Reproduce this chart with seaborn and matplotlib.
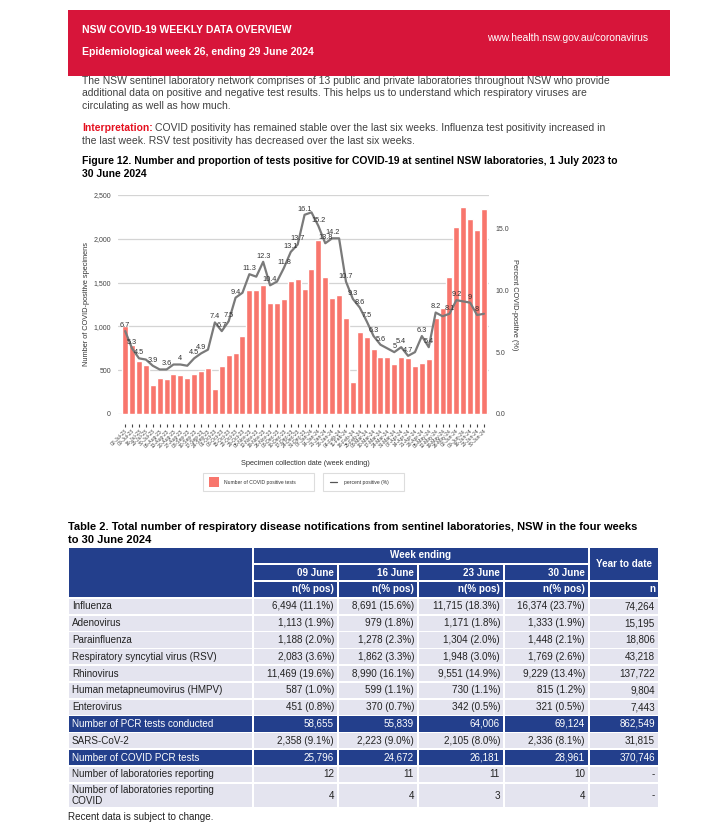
import numpy as np
import pandas as pd
import seaborn as sns
import matplotlib.pyplot as plt
from matplotlib.patches import Rectangle
from matplotlib.lines import Line2D

# ---- chart data (week ending, sentinel labs) ----
week_ending = pd.date_range("2023-07-02", "2024-06-30", freq="W-SUN")
week_labels = [d.strftime("%d-%b-%y") for d in week_ending]

covid_pos = [1008, 782, 603, 561, 336, 416, 405, 462, 443, 416,
             462, 489, 523, 286, 550, 679, 695, 885, 1412, 1412,
             1469, 1271, 1271, 1317, 1519, 1542, 1427, 1660, 1989, 1569,
             1328, 1363, 1095, 370, 931, 874, 740, 649, 649, 573,
             649, 637, 550, 580, 630, 1092, 1214, 1561, 2137, 2358,
             2223, 2105, 2336]

pct_pos = [6.7, 5.3, 4.5, 4.4, 3.9, 3.6, 3.6, 4.0, 4.0, 3.9,
           4.5, 4.9, 5.2, 7.4, 6.7, 7.5, 9.4, 9.8, 11.3, 11.1,
           12.3, 10.4, 10.7, 11.8, 13.1, 13.7, 16.1, 16.3, 15.2, 13.8,
           14.2, 14.2, 10.7, 9.3, 8.6, 7.5, 6.3, 5.6, 5.3, 5.0,
           5.4, 4.7, 5.0, 6.3, 5.4, 8.2, 7.9, 8.1, 9.2, 9.1,
           9.0, 8.0, 8.1]

# weeks whose percent label is visible on the chart (0-based)
labelled_weeks = [0, 1, 2, 4, 6, 8, 10, 11, 13, 14, 15, 16, 18, 20, 21, 23, 24, 25,
                  26, 28, 29, 30, 32, 33, 34, 35, 36, 37, 39, 40, 41, 43, 44, 45,
                  47, 48, 50, 51]

# ---- table data ----
row_names = ["Influenza", "Adenovirus", "Parainfluenza", "Respiratory syncytial virus (RSV)",
             "Rhinovirus", "Human metapneumovirus (HMPV)", "Enterovirus",
             "Number of PCR tests conducted", "SARS-CoV-2", "Number of COVID PCR tests",
             "Number of laboratories reporting", "Number of laboratories reporting\nCOVID"]
week_cols = ["09 June", "16 June", "23 June", "30 June"]
col_09jun = ["6,494 (11.1%)", "1,113 (1.9%)", "1,188 (2.0%)", "2,083 (3.6%)", "11,469 (19.6%)",
             "587 (1.0%)", "451 (0.8%)", "58,655", "2,358 (9.1%)", "25,796", "12", "4"]
col_16jun = ["8,691 (15.6%)", "979 (1.8%)", "1,278 (2.3%)", "1,862 (3.3%)", "8,990 (16.1%)",
             "599 (1.1%)", "370 (0.7%)", "55,839", "2,223 (9.0%)", "24,672", "11", "4"]
col_23jun = ["11,715 (18.3%)", "1,171 (1.8%)", "1,304 (2.0%)", "1,948 (3.0%)", "9,551 (14.9%)",
             "730 (1.1%)", "342 (0.5%)", "64,006", "2,105 (8.0%)", "26,181", "11", "3"]
col_30jun = ["16,374 (23.7%)", "1,333 (1.9%)", "1,448 (2.1%)", "1,769 (2.6%)", "9,229 (13.4%)",
             "815 (1.2%)", "321 (0.5%)", "69,124", "2,336 (8.1%)", "28,961", "10", "4"]
col_ytd = ["74,264", "15,195", "18,806", "43,218", "137,722", "9,804", "7,443",
           "862,549", "31,815", "370,746", "-", "-"]
blue_rows = ["Number of PCR tests conducted", "Number of COVID PCR tests"]

RED = "#D7153A"
BLUE = "#233F8C"
LAV = "#E4E4EF"
BAR = "#F8766D"
LINE = "#7A7A7A"
GREY_TXT = "#404040"

sns.set_style("white")
plt.rcParams["font.family"] = ["Liberation Sans", "DejaVu Sans"]

W, H = 707, 831
fig = plt.figure(figsize=(W / 100, H / 100), dpi=100)

# overlay in pixel coordinates for the page parts
pg = fig.add_axes([0, 0, 1, 1])
pg.set_xlim(0, W)
pg.set_ylim(H, 0)
pg.axis("off")

# header band
pg.add_patch(Rectangle((68, 10), 602, 66, color=RED, lw=0))
pg.text(82, 30, "NSW COVID-19 WEEKLY DATA OVERVIEW", color="white", fontsize=7.45, weight="bold", va="center")
pg.text(82, 52, "Epidemiological week 26, ending 29 June 2024", color="white", fontsize=7.55, weight="bold", va="center")
pg.text(648, 38, "www.health.nsw.gov.au/coronavirus", color="white", fontsize=7.4, ha="right", va="center")

para = ["The NSW sentinel laboratory network comprises of 13 public and private laboratories throughout NSW who provide",
        "additional data on positive and negative test results. This helps us to understand which respiratory viruses are",
        "circulating as well as how much."]
for k, line in enumerate(para):
    pg.text(82, 81 + k * 12.5, line, color=GREY_TXT, fontsize=7.5, va="center")

t_int = pg.text(82, 128, "Interpretation:", color="#E5101F", fontsize=7.5, weight="bold", va="center")
fig.canvas.draw()
bb = t_int.get_window_extent().transformed(pg.transData.inverted())
pg.text(bb.x1 + 2.5, 128, "COVID positivity has remained stable over the last six weeks. Influenza test positivity increased in",
        color=GREY_TXT, fontsize=7.5, va="center")
pg.text(82, 141, "the last week. RSV test positivity has decreased over the last six weeks.", color=GREY_TXT, fontsize=7.5, va="center")

pg.text(82, 161, "Figure 12. Number and proportion of tests positive for COVID-19 at sentinel NSW laboratories, 1 July 2023 to",
        color="black", fontsize=7.5, weight="bold", va="center")
pg.text(82, 174, "30 June 2024", color="black", fontsize=7.5, weight="bold", va="center")

# ---- chart ----
df = pd.DataFrame({"week": week_labels, "positive": covid_pos, "pct": pct_pos, "pos": np.arange(len(week_labels))})

ax = fig.add_axes([118 / W, 1 - 414 / H, 371 / W, 219 / H])
sns.barplot(data=df, x="week", y="positive", color=BAR, saturation=1, width=0.87, ax=ax, zorder=2)
ax.set_ylim(0, 2500)
ax.set_yticks(range(0, 2501, 500))
ax.set_yticklabels([f"{v:,}" for v in range(0, 2501, 500)])
ax.yaxis.grid(True, color="#d4d4d4", lw=0.9)
ax.set_axisbelow(True)
for s in ax.spines.values():
    s.set_visible(False)
ax.spines["bottom"].set_position(("outward", 7))
ax.tick_params(axis="y", length=0, pad=5, labelsize=5, labelcolor="#444")
ax.tick_params(axis="x", bottom=True, length=2.5, width=0.8, color="#444", pad=1)
ax.set_xticks(range(len(week_labels)))
ax.set_xticklabels(week_labels, rotation=45, ha="right", rotation_mode="anchor", fontsize=3.6, color="#444")
ax.set_ylabel("Number of COVID-positive specimens", fontsize=5.3, color="#333")
ax.yaxis.set_label_coords(-0.075, 0.5)
ax.set_xlabel("Specimen collection date (week ending)", fontsize=5.3, color="#333")
ax.xaxis.set_label_coords(0.504, -0.21)

ax2 = ax.twinx()
sns.lineplot(data=df, x="pos", y="pct", color=LINE, lw=1.6, ax=ax2)
ax2.set_ylim(0, 17.7)
ax2.set_yticks([0, 5, 10, 15])
ax2.set_yticklabels([f"{v:.1f}" for v in [0, 5, 10, 15]])
ax2.tick_params(axis="y", length=0, pad=5, labelsize=5, labelcolor="#444")
for s in ax2.spines.values():
    s.set_visible(False)
ax2.set_ylabel("Percent COVID-positive (%)", fontsize=5.3, color="#333", rotation=-90)
ax2.yaxis.set_label_coords(1.078, 0.5)
ax2.set_xlabel("")
for i in labelled_weeks:
    ax2.annotate(f"{pct_pos[i]:g}", (i, pct_pos[i]), xytext=(0, 4), textcoords="offset points",
                 ha="center", va="center", fontsize=5.3, color="#333")
ax.set_xlim(-1.04, 52.73)

# legend boxes
pg.add_patch(Rectangle((203, 473), 111, 18, facecolor="white", edgecolor="#dddddd", lw=0.8))
pg.add_patch(Rectangle((209, 477), 10, 10, color=BAR, lw=0))
pg.text(224, 482.5, "Number of COVID positive tests", fontsize=3.6, color="#333", va="center")
pg.add_patch(Rectangle((323, 473), 81, 18, facecolor="white", edgecolor="#dddddd", lw=0.8))
pg.add_line(Line2D([330, 337], [482, 482], color="#555", lw=0.9))
pg.text(344, 482.5, "percent positive (%)", fontsize=3.6, color="#333", va="center")

# ---- table ----
pg.text(68, 527, "Table 2. Total number of respiratory disease notifications from sentinel laboratories, NSW in the four weeks",
        color="black", fontsize=8.0, weight="bold", va="center")
pg.text(68, 540, "to 30 June 2024", color="black", fontsize=8.0, weight="bold", va="center")

col_x = [68, 253, 338, 418, 504, 589, 659]
hdr_y = [547, 564, 581, 598]
rh = 16.8
g = 0.8
TS = 7.1


def cell(x0, x1, y0, y1, fc):
    pg.add_patch(Rectangle((x0 + g, y0 + g), x1 - x0 - 2 * g, y1 - y0 - 2 * g, color=fc, lw=0))


cell(col_x[0], col_x[1], hdr_y[0], hdr_y[3], BLUE)
cell(col_x[1], col_x[5], hdr_y[0], hdr_y[1], BLUE)
pg.text((col_x[1] + col_x[5]) / 2, (hdr_y[0] + hdr_y[1]) / 2, "Week ending", color="white",
        fontsize=TS, weight="bold", ha="center", va="center")
cell(col_x[5], col_x[6], hdr_y[0], hdr_y[2], BLUE)
pg.text((col_x[5] + col_x[6]) / 2, (hdr_y[0] + hdr_y[2]) / 2, "Year to date", color="white",
        fontsize=TS, weight="bold", ha="center", va="center")
for j, wk in enumerate(week_cols):
    cell(col_x[j + 1], col_x[j + 2], hdr_y[1], hdr_y[2], BLUE)
    pg.text(col_x[j + 2] - 4, (hdr_y[1] + hdr_y[2]) / 2, wk, color="white", fontsize=TS,
            weight="bold", ha="right", va="center")
    cell(col_x[j + 1], col_x[j + 2], hdr_y[2], hdr_y[3], BLUE)
    pg.text(col_x[j + 2] - 4, (hdr_y[2] + hdr_y[3]) / 2, "n(% pos)", color="white", fontsize=TS,
            weight="bold", ha="right", va="center")
cell(col_x[5], col_x[6], hdr_y[2], hdr_y[3], BLUE)
pg.text(col_x[6] - 4, (hdr_y[2] + hdr_y[3]) / 2, "n", color="white", fontsize=TS,
        weight="bold", ha="right", va="center")

columns = [col_09jun, col_16jun, col_23jun, col_30jun, col_ytd]
y0 = hdr_y[3]
for r, name in enumerate(row_names):
    h = 25.5 if "\n" in name else rh
    fc = BLUE if name in blue_rows else LAV
    tc = "white" if name in blue_rows else "#222222"
    for j in range(6):
        cell(col_x[j], col_x[j + 1], y0, y0 + h, fc)
    pg.text(72, y0 + h / 2, name, color=tc, fontsize=TS, va="center", linespacing=1.1)
    for j, col in enumerate(columns):
        pg.text(col_x[j + 2] - 4, y0 + h / 2, col[r], color=tc, fontsize=TS, ha="right", va="center")
    y0 += h

pg.text(68, 817, "Recent data is subject to change.", color="#222222", fontsize=TS, va="center")

fig.savefig("out.png", dpi=100)
